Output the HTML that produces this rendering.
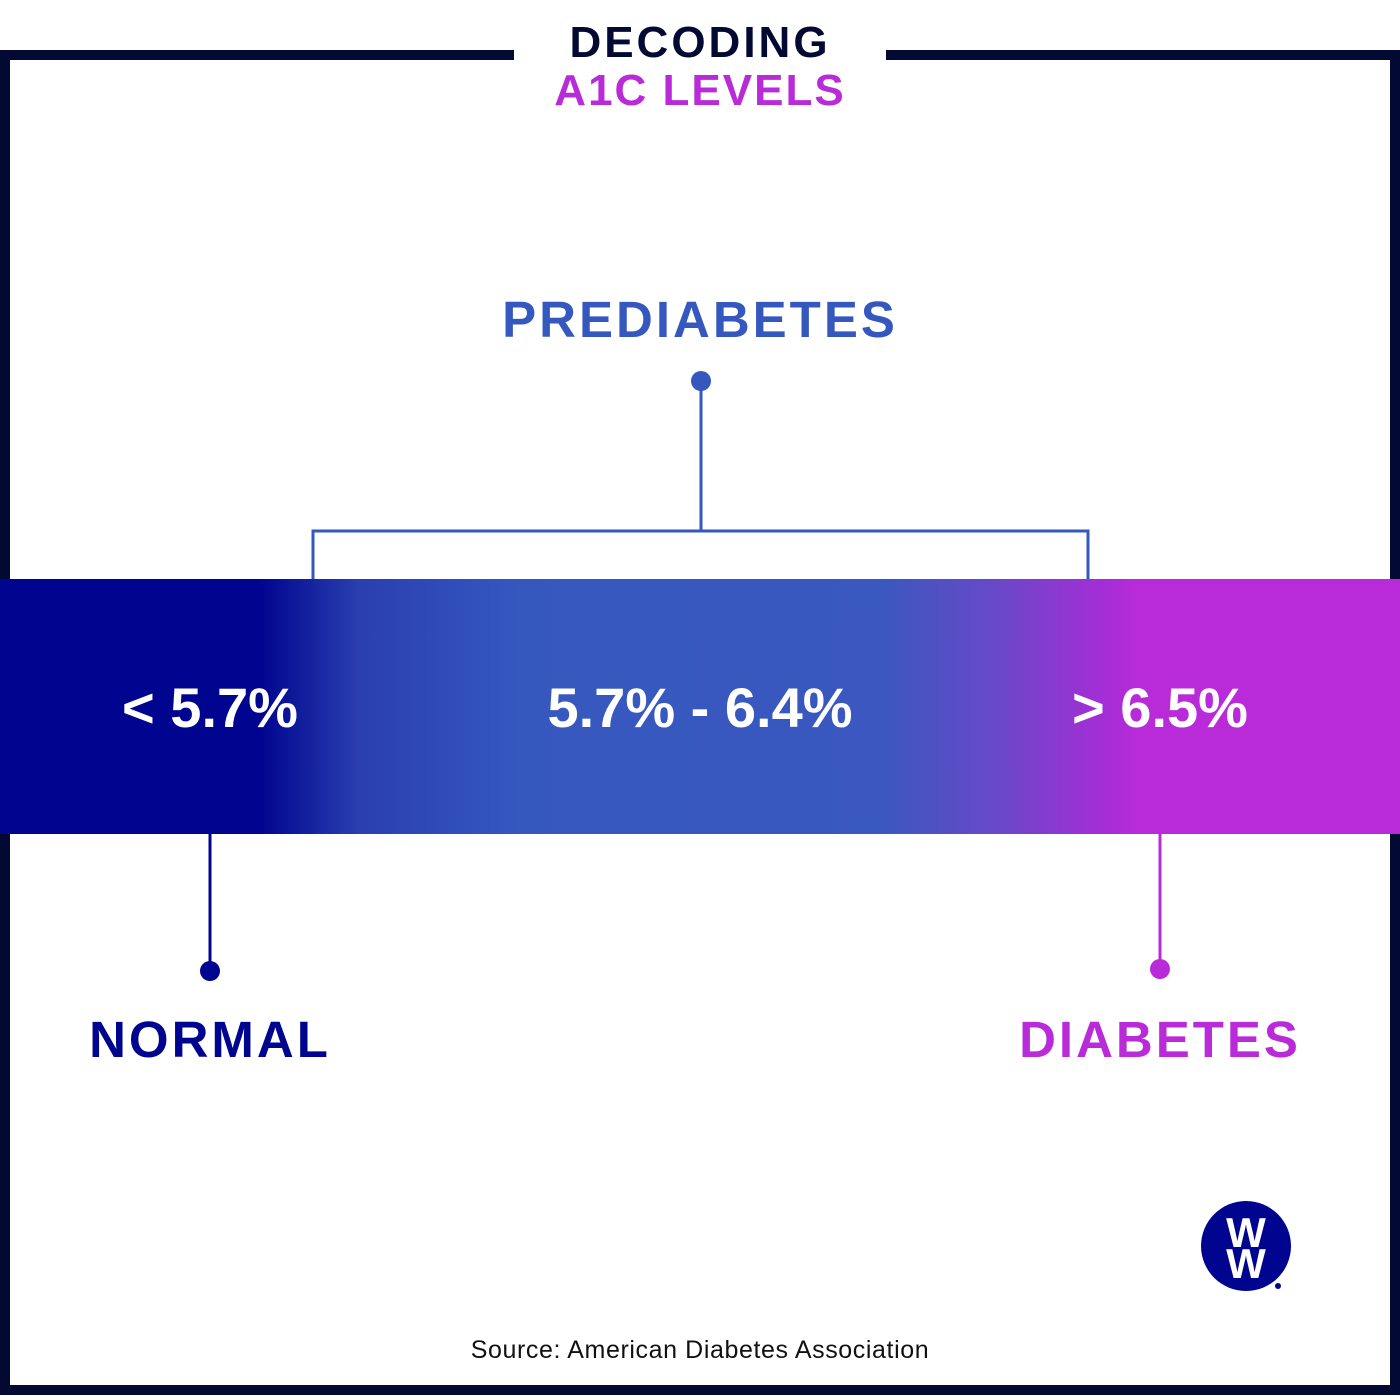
<!DOCTYPE html>
<html><head><style>
body{margin:0;width:1400px;height:1400px;background:#fff;position:relative;overflow:hidden;font-family:"Liberation Sans",sans-serif}
.a{position:absolute}
.t{position:absolute;left:0;width:1400px;text-align:center;font-weight:bold}
</style></head><body>
<div class="a" style="left:0;top:50px;width:514px;height:10px;background:#020a33"></div>
<div class="a" style="left:886px;top:50px;width:514px;height:10px;background:#020a33"></div>
<div class="a" style="left:0;top:50px;width:10px;height:1345px;background:#020a33"></div>
<div class="a" style="left:1390px;top:50px;width:10px;height:1345px;background:#020a33"></div>
<div class="a" style="left:0;top:1385px;width:1400px;height:10px;background:#020a33"></div>
<div class="t" style="top:18px;font-size:44px;letter-spacing:3px;color:#020a33">DECODING</div>
<div class="t" style="top:66px;font-size:44px;letter-spacing:2px;color:#b92bd8">A1C LEVELS</div>
<div class="t" style="top:290px;font-size:51px;letter-spacing:3px;color:#3558bf">PREDIABETES</div>
<svg class="a" style="left:0;top:0" width="1400" height="1400">
<circle cx="701" cy="381" r="10" fill="#3558bf"/>
<path d="M701 381V530M313 579V531H1088V579" stroke="#3558bf" stroke-width="3" fill="none"/>
<path d="M210 834V970" stroke="#00058f" stroke-width="3"/>
<circle cx="210" cy="971" r="10" fill="#00058f"/>
<path d="M1160 834V968" stroke="#b92bd8" stroke-width="3"/>
<circle cx="1160" cy="969" r="10" fill="#b92bd8"/>
<circle cx="1246" cy="1246" r="45" fill="#00058f"/>
<text x="1246" y="1247" text-anchor="middle" font-family="Liberation Sans" font-weight="bold" font-size="42" fill="#fff" transform="translate(1246 0) scale(1 1) translate(-1246 0)">W</text>
<text x="1246" y="1278" text-anchor="middle" font-family="Liberation Sans" font-weight="bold" font-size="42" fill="#fff">W</text>
<circle cx="1278" cy="1286" r="3" fill="#00058f"/>
</svg>
<div class="a" style="left:0;top:579px;width:1400px;height:255px;background:linear-gradient(90deg,#00058f 0,#00058f 260px,#2a3fb0 360px,#3558bf 520px,#3a58bf 880px,#6a48c8 1000px,#a32ed6 1100px,#b92bd8 1140px,#b92bd8 100%)"></div>
<div class="a" style="left:0;top:675px;width:420px;text-align:center;font-size:56px;font-weight:bold;color:#fff">&lt; 5.7%</div>
<div class="a" style="left:400px;top:675px;width:600px;text-align:center;font-size:56px;font-weight:bold;color:#fff">5.7% - 6.4%</div>
<div class="a" style="left:950px;top:675px;width:420px;text-align:center;font-size:56px;font-weight:bold;color:#fff">&gt; 6.5%</div>
<div class="a" style="left:0;top:1010px;width:420px;text-align:center;font-size:51px;font-weight:bold;letter-spacing:3px;color:#00058f">NORMAL</div>
<div class="a" style="left:950px;top:1010px;width:420px;text-align:center;font-size:51px;font-weight:bold;letter-spacing:3px;color:#b92bd8">DIABETES</div>
<div class="t" style="top:1336px;font-size:25px;font-weight:normal;letter-spacing:0.6px;color:#111">Source: American Diabetes Association</div>
</body></html>
